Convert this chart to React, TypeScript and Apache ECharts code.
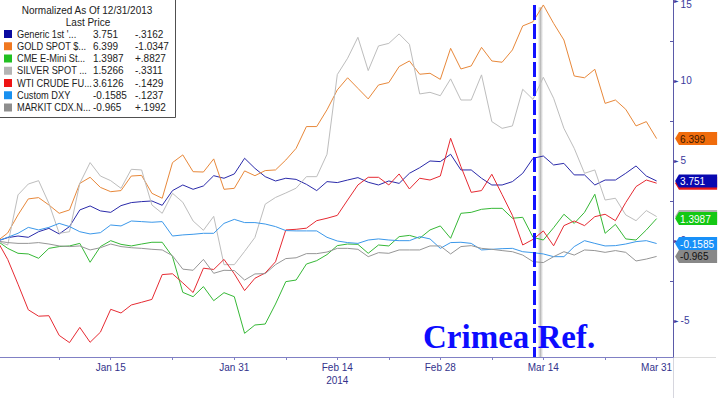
import React, { useEffect, useRef } from "react";
import * as echarts from "echarts";

// ---- data (business days from Dec 31 2013 to Mar 31 2014, index 0..64) ----
const seriesNames = [
  "Generic 1st '...",
  "GOLD SPOT $...",
  "CME E-Mini St...",
  "SILVER SPOT ...",
  "WTI CRUDE FU...",
  "Custom DXY",
  "MARKIT CDX.N...",
];
const lastPrices = ["3.751", "6.399", "1.3987", "1.5266", "3.6126", "-0.1585", "-0.965"];
const changes = ["-.3162", "-1.0347", "+.8827", "-.3311", "-.1429", "-.1237", "+.1992"];

const genericData = [
  0, 0.21, 0.31, 0.23, 0.58, 0.79, 0.44, 0.9, 1.94, 2.19, 1.88, 1.79, 2.21, 2.4, 2.46, 2.5,
  2.23, 3.15, 3.5, 3.23, 3.44, 4.08, 3.92, 4.19, 5.17, 4.54, 4.02, 3.75, 3.92, 3.85, 3.54, 3.15,
  3.71, 3.65, 3.81, 3.96, 3.67, 3.5, 3.75, 3.6, 4.23, 4.58, 5.0, 4.96, 5.42, 4.44, 4.44, 3.92,
  3.5, 3.5, 3.71, 4.23, 5.17, 5.31, 4.75, 4.85, 4.13, 4.13, 3.5, 3.81, 3.81, 4.23, 4.69, 4.06, 3.751,
];
const goldData = [
  0, 0.5, 1.63, 2.63, 2.71, 2.25, 1.73, 1.94, 3.6, 3.98, 3.35, 3.08, 3.15, 4.06, 4.1, 2.98,
  2.67, 4.9, 5.38, 4.33, 4.31, 5.13, 3.23, 3.29, 4.38, 4.08, 4.4, 4.44, 5.06, 5.79, 7.15, 7.15,
  8.2, 9.44, 10.2, 9.54, 8.88, 9.75, 9.9, 10.9, 11.25, 10.42, 10.48, 10.1, 12.04, 10.75, 10.94, 12.1,
  11.25, 11.17, 11.94, 13.44, 13.7, 14.75, 13.6, 12.56, 10.31, 10.2, 10.73, 8.6, 8.81, 8.23, 7.19, 7.46, 6.399,
];
const cmeData = [
  0, -0.46, -0.77, -0.81, -1.08, -0.46, -0.35, -0.31, -0.15, -1.33, -0.35, 0.02, -0.21, -0.31, -0.19, -0.08,
  -0.08, -0.98, -3.21, -3.48, -2.85, -3.73, -3.23, -3.48, -5.77, -5.25, -5.19, -3.94, -2.54, -2.44, -1.44, -1.23,
  -0.85, -0.29, -0.19, -0.21, -0.77, -0.25, -0.31, 0.27, 0.35, 0.17, 0.69, 0.94, 0.17, 1.73, 1.79, 1.98,
  2.04, 2.04, 1.42, 1.48, 0.23, 0.06, 0.83, 1.67, 1.1, 1.79, 2.92, 0.48, 1.04, 0.13, 0.06, 0.69, 1.3987,
];
const silverData = [
  0, -0.25, 2.88, 3.56, 3.77, 2.35, 0.48, 0.58, 3.6, 4.9, 4.06, 3.77, 3.29, 4.48, 4.44, 2.25,
  1.73, 2.98, 2.42, 1.25, 0.67, 1.54, -1.48, -1.48, -0.65, 0.22, 2.3, 2.72, 3.0, 3.3, 4.02, 4.02,
  5.42, 10.4, 11.42, 12.73, 10.65, 12.19, 12.35, 12.94, 12.29, 9.19, 9.29, 9.08, 10.13, 8.81, 8.81, 10.38,
  7.46, 7.04, 7.19, 9.48, 8.85, 10.23, 8.92, 7.04, 5.79, 4.23, 4.44, 2.56, 2.67, 1.63, 1.27, 1.9, 1.5266,
];
const wtiData = [
  0, -1.15, -2.7, -4.3, -4.7, -4.67, -5.9, -6.35, -5.4, -6.33, -5.7, -4.27, -4.5, -4.0, -3.83, -3.65,
  -2.1, -2.05, -2.62, -3.22, -1.7, -1.78, -1.15, -2.05, -3.1, -2.33, -2.0, -1.3, 0.69, 0.73, 0.8, 1.27,
  1.42, 1.6, 2.56, 3.5, 3.98, 3.98, 3.5, 4.19, 3.25, 3.92, 3.81, 4.06, 6.42, 4.65, 3.04, 3.15,
  4.17, 2.9, 1.6, -0.25, 0.1, 0.63, -0.3, 0.96, 1.25, 0.96, 1.52, 1.67, 1.27, 2.4, 3.4, 3.81, 3.6126,
];
const dxyData = [
  0, 0.23, 0.48, 0.85, 0.69, 0.85, 1.1, 0.9, 0.58, 0.44, 0.52, 1.0, 0.94, 1.25, 1.21, 1.17,
  1.21, 0.31, 0.38, 0.42, 0.48, 0.48, 1.1, 1.35, 1.15, 1.15, 1.06, 0.9, 0.65, 0.63, 0.63, 0.63,
  0.23, 0.0, -0.1, -0.15, 0.06, 0.13, 0.06, 0.02, 0.02, 0.27, 0.13, -0.46, -0.1, -0.08, -0.15, -0.56,
  -0.52, -0.48, -0.46, -0.67, -0.73, -0.81, -0.98, -0.98, -0.35, 0.02, -0.15, -0.31, -0.29, -0.19, -0.04, 0.02, -0.1585,
];
const cdxData = [
  0, -0.1, -0.15, -0.15, -0.1, -0.19, -0.31, -0.35, -0.31, -0.56, -0.42, -0.19, -0.35, -0.42, -0.46, -0.52,
  -0.56, -0.92, -1.76, -1.83, -1.15, -2.02, -1.83, -1.85, -2.44, -2.06, -2.04, -1.48, -1.1, -1.05, -0.79, -0.79,
  -0.69, -0.46, -0.46, -0.52, -0.98, -0.73, -0.77, -0.56, -0.56, -0.56, -0.31, -0.31, -0.81, -0.35, -0.29, -0.46,
  -0.52, -0.6, -0.67, -0.88, -1.29, -1.35, -0.98, -0.67, -0.88, -0.56, -0.6, -0.71, -0.6, -0.71, -1.25, -1.13, -0.965,
];

// x tick labels (business-day index from Dec 31 2013)
const xLabelIndex = [11, 23, 33, 43, 53, 64];
const xLabelText = ["Jan 15", "Jan 31", "Feb 14\n2014", "Feb 28", "Mar 14", "Mar 31"];
const xMinorTickIndex = [6, 17, 28, 38, 48, 59];
const yLabelValues = [15, 10, 5, 0, -5];
const yMinorTickValues = [12.5, 7.5, 2.5, -2.5];
const crimeaIndex = 52.1; // Mar 13 annotation
const cursorBand = [52.45, 53.0];

// ---- styles ----
const lineColors = ["#2a2aaa", "#e8883a", "#36b836", "#bdbdbd", "#e62a32", "#3b98ea", "#969696"];
const swatchColors = ["#0a0aa0", "#f07820", "#22c022", "#b4b4b4", "#ee1414", "#1890f0", "#8e8e8e"];
const tagColors = ["#0808b0", "#f06c0c", "#14c814", "#b0b0b0", "#e81818", "#1890f8", "#888888"];
const tagTextColors = ["#ffffff", "#3a1800", "#ffffff", "#111111", "#ffffff", "#ffffff", "#111111"];
const tagZ = [7, 7, 7, 5, 5, 7, 7];

const allData = [genericData, goldData, cmeData, silverData, wtiData, dxyData, cdxData];

const FONT = '"Liberation Sans", Arial, sans-serif';

export default function App() {
  const ref = useRef<HTMLDivElement>(null);

  useEffect(() => {
    if (!ref.current) return;
    const chart = echarts.init(ref.current, null, { renderer: "svg", width: 728, height: 398 });

    const lineSeries: any[] = allData.map((d, k) => {
      const last = d.length - 1;
      return {
        type: "line",
        name: seriesNames[k],
        data: d.map((v, i) => [i, v]),
        showSymbol: false,
        symbol: "none",
        z: 2,
        lineStyle: { color: lineColors[k], width: 1 },
        itemStyle: { color: lineColors[k] },
        markPoint: {
          silent: true,
          animation: false,
          z: tagZ[k],
          symbol: "path://M0,6 L4,0 L44,0 L44,12 L4,12 Z",
          symbolSize: [42, 13],
          symbolKeepAspect: false,
          symbolOffset: [39.5, 0],
          itemStyle: { color: tagColors[k] },
          label: {
            show: true,
            position: "inside",
            align: "left",
            offset: [-16, 0.5],
            color: tagTextColors[k],
            fontSize: 10,
            fontFamily: FONT,
            formatter: () => lastPrices[k],
          },
          data: [{ coord: [last, d[last]] }],
        },
      };
    });

    const bandSeries = {
      type: "line",
      data: [],
      z: 1,
      silent: true,
      markArea: {
        silent: true,
        animation: false,
        itemStyle: {
          color: new echarts.graphic.LinearGradient(0, 0, 1, 0, [
            { offset: 0, color: "rgba(190,190,190,0)" },
            { offset: 0.5, color: "rgba(165,165,165,0.75)" },
            { offset: 1, color: "rgba(190,190,190,0)" },
          ]),
        },
        data: [[{ xAxis: cursorBand[0], yAxis: 14.6 }, { xAxis: cursorBand[1], yAxis: -7.25 }]],
      },
    };

    const crimeaSeries = {
      type: "line",
      data: [],
      z: 5,
      silent: true,
      markLine: {
        silent: true,
        animation: false,
        symbol: ["none", "none"],
        label: { show: false },
        lineStyle: { color: "#1212ff", width: 3, type: [15, 4], opacity: 1 },
        data: [[{ coord: [crimeaIndex, 14.75] }, { coord: [crimeaIndex, -7.25] }]],
      },
    };

    const legendChildren: any[] = [
      {
        type: "rect",
        shape: { x: -0.5, y: -0.5, width: 176, height: 118 },
        style: { fill: "#ffffff", stroke: "#505050", lineWidth: 1 },
      },
      {
        type: "text",
        x: 87,
        y: 10,
        style: { text: "Normalized As Of 12/31/2013", font: `10px ${FONT}`, fill: "#222", align: "center", verticalAlign: "middle" },
      },
      {
        type: "text",
        x: 88,
        y: 22,
        style: { text: "Last Price", font: `10px ${FONT}`, fill: "#222", align: "center", verticalAlign: "middle" },
      },
    ];
    seriesNames.forEach((name, k) => {
      const y = 34 + k * 12.25;
      legendChildren.push({
        type: "rect",
        shape: { x: 4, y: y - 4, width: 8, height: 8 },
        style: { fill: swatchColors[k] },
      });
      legendChildren.push({
        type: "text",
        x: 17,
        y,
        scaleX: 0.88,
        style: { text: name, font: `10.5px ${FONT}`, fill: "#222", verticalAlign: "middle" },
      });
      legendChildren.push({
        type: "text",
        x: 93,
        y,
        style: { text: lastPrices[k], font: `10px ${FONT}`, fill: "#222", verticalAlign: "middle" },
      });
      legendChildren.push({
        type: "text",
        x: 135,
        y,
        style: { text: changes[k], font: `10px ${FONT}`, fill: "#222", verticalAlign: "middle" },
      });
    });

    const option: any = {
      animation: false,
      backgroundColor: "#ffffff",
      grid: {
        left: -2.6,
        right: 55,
        top: 0,
        bottom: 41,
        containLabel: false,
        outerBoundsMode: "none",
      },
      xAxis: {
        type: "value",
        min: 0,
        max: 65.59,
        splitLine: { show: false },
        axisLine: { show: true, onZero: false, lineStyle: { color: "#8080c4", width: 1 } },
        axisTick: {
          show: true,
          length: 3,
          customValues: [...xLabelIndex, ...xMinorTickIndex],
          lineStyle: { color: "#8080c4" },
        },
        axisLabel: {
          show: true,
          customValues: xLabelIndex,
          formatter: (v: number) => {
            const idx = xLabelIndex.indexOf(Math.round(v));
            return idx >= 0 ? xLabelText[idx] : "";
          },
          color: "#33338c",
          fontSize: 10,
          fontFamily: FONT,
          margin: 4,
          lineHeight: 13,
        },
      },
      yAxis: {
        type: "value",
        position: "right",
        min: -7.25,
        max: 15.06,
        splitLine: { show: false },
        axisLine: { show: true, onZero: false, lineStyle: { color: "#5a5aa8", width: 1 } },
        axisTick: {
          show: true,
          inside: true,
          length: 3,
          customValues: yMinorTickValues,
          lineStyle: { color: "#5a5aa8" },
        },
        axisLabel: {
          show: true,
          customValues: yLabelValues,
          margin: 1,
          formatter: (v: number) => (v === 15 ? `{t|\u25BA}{top|${v}}` : `{t|\u25BA}{v|${v}}`),
          rich: {
            t: { fontSize: 6, color: "#3a3a9c", fontFamily: '"DejaVu Sans", sans-serif' },
            v: { fontSize: 10, color: "#3a3a9c", fontFamily: FONT, padding: [0, 0, 0, 2] },
            top: { fontSize: 10, color: "#3a3a9c", fontFamily: FONT, padding: [7, 0, 0, 2] },
          },
        },
      },
      series: [bandSeries, ...lineSeries, crimeaSeries],
      graphic: [
        {
          type: "line",
          silent: true,
          shape: { x1: 673.5, y1: 357, x2: 673.5, y2: 398 },
          style: { stroke: "#d6d6de", lineWidth: 1 },
          z: 0,
        },
        {
          type: "line",
          silent: true,
          shape: { x1: 674, y1: 357.5, x2: 716, y2: 357.5 },
          style: { stroke: "#dcdcdc", lineWidth: 1 },
          z: 0,
        },
        { type: "group", x: 0, y: 0, z: 50, children: legendChildren },
        {
          type: "text",
          x: 423,
          y: 337,
          z: 60,
          style: {
            text: "Crimea Ref.",
            font: 'bold 33px "Liberation Serif", "Times New Roman", serif',
            fill: "#0c0cff",
            verticalAlign: "middle",
          },
        },
      ],
    };

    chart.setOption(option);
    return () => chart.dispose();
  }, []);

  return (
    <div
      ref={ref}
      style={{ position: "fixed", left: 0, top: 0, width: 728, height: 398, background: "#fff" }}
    />
  );
}
